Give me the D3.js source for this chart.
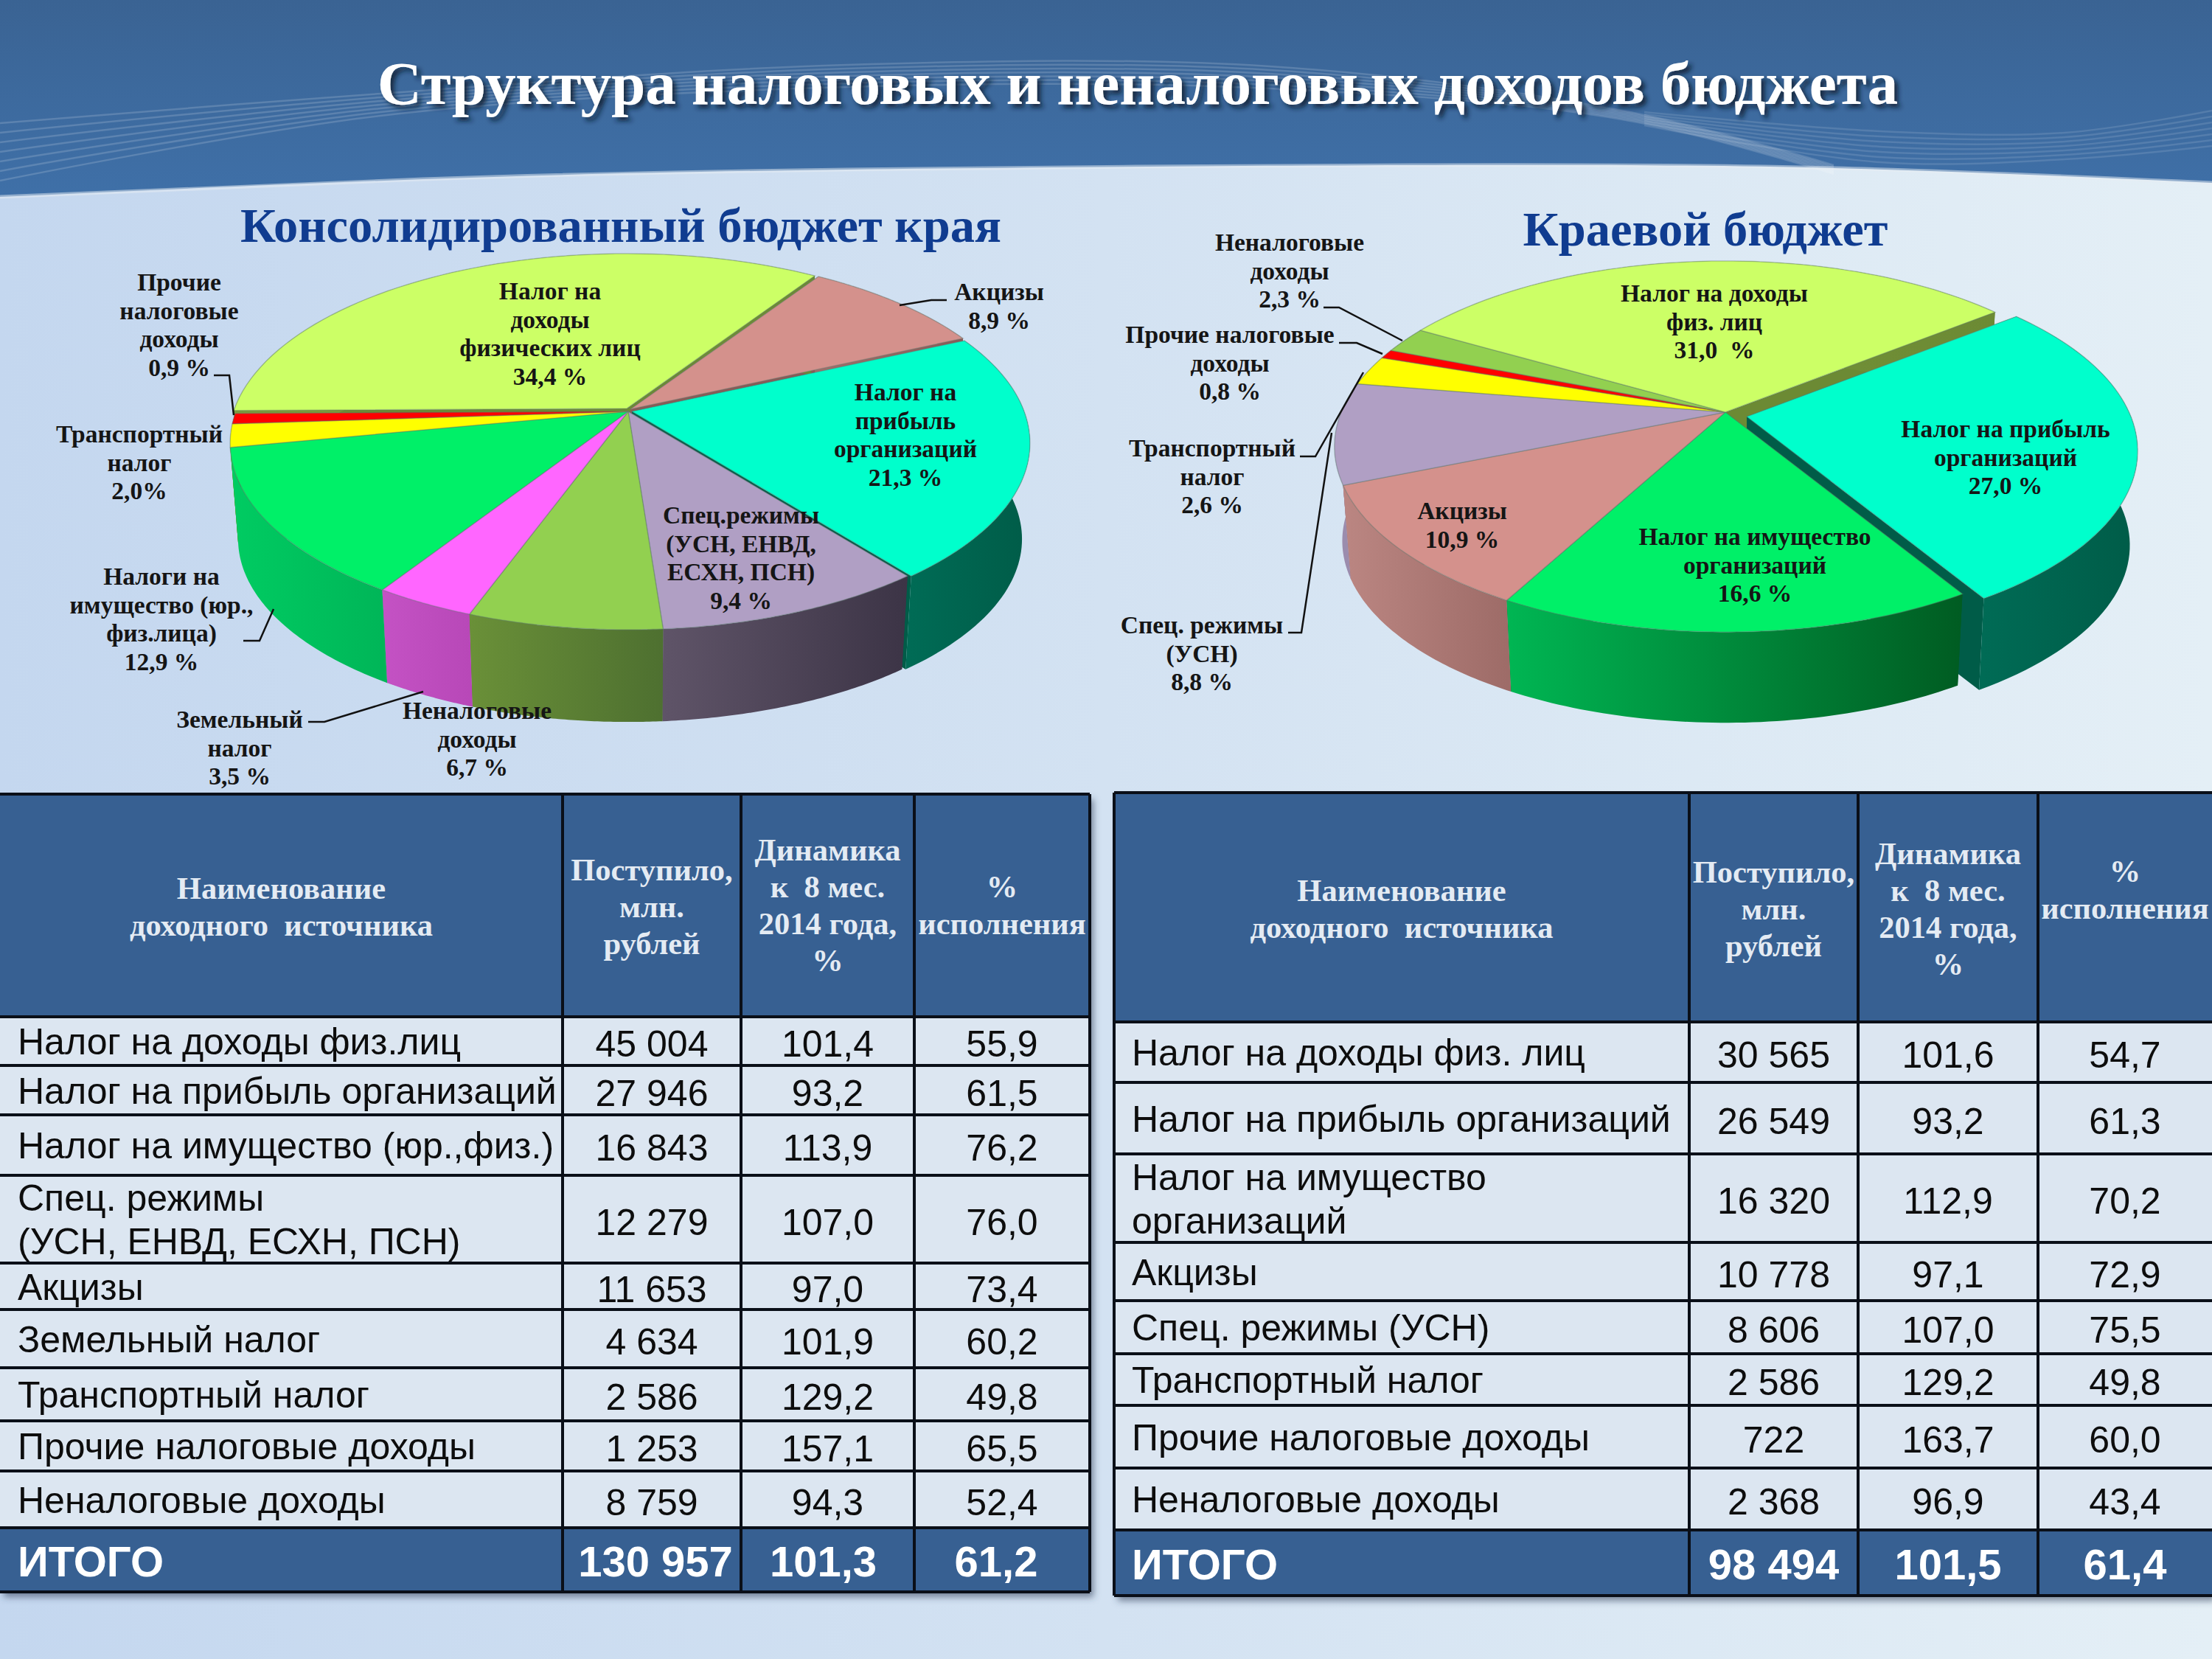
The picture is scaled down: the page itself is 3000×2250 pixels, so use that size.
<!DOCTYPE html>
<html>
<head>
<meta charset="utf-8">
<script src="https://cdn.jsdelivr.net/npm/d3@7"></script>
<style>
html, body { margin: 0; padding: 0; background: #d5e4f3; }
svg { display: block; }
</style>
</head>
<body>
<script>
var width = 3000;
var height = 2250;

// data
var consShares = [8.9, 21.3, 9.4, 6.7, 3.5, 12.9, 2.0, 0.9, 34.4];
var consTop = ["#d4918c", "#00ffcc", "#b09fc4", "#92d050", "#ff66ff", "#00f068", "#ffff00", "#ff0000", "#ccff66"];
var consSide = [["#a06e6a", "#8a5a56"], ["#006b55", "#005c48"], ["#5f5468", "#3c3446"], ["#6a9038", "#4e7030"],
    ["#c452c4", "#b848b8"], ["#00cc62", "#00b658"], ["#a0a000", "#909000"], ["#a00000", "#900000"], ["#7c9a3c", "#6c8a34"]];
var consOffset = [[3, -3], [5, 0], [0, 0], [0, 0], [0, 0], [0, 0], [0, 0], [0, 0], [-2, -4]];

var kraiShares = [27.0, 16.6, 10.9, 8.8, 2.6, 0.8, 2.3, 31.0];
var kraiTop = ["#00ffcc", "#00f068", "#d4918c", "#b09fc4", "#ffff00", "#ff0000", "#92d050", "#ccff66"];
var kraiSide = [["#006b55", "#005c48"], ["#00b653", "#005c22"], ["#bb8682", "#9e6c68"], ["#9b8cad", "#9b8cad"],
    ["#a0a000", "#909000"], ["#a00000", "#900000"], ["#6a9038", "#4e7030"], ["#7c9a3c", "#6c8a34"]];
var kraiOffset = [[29, 6], [0, 0], [0, 0], [0, 0], [0, 0], [0, 0], [0, 0], [0, 0]];

var consLabels = [
    ["Налог на|доходы|физических лиц|34,4 %", 746, 396],
    ["Акцизы|8,9 %", 1355, 397],
    ["Налог на|прибыль|организаций|21,3 %", 1228, 533],
    ["Спец.режимы|(УСН, ЕНВД,|ЕСХН, ПСН)|9,4 %", 1005, 700],
    ["Неналоговые|доходы|6,7 %", 647, 965],
    ["Земельный|налог|3,5 %", 325, 977],
    ["Налоги на|имущество (юр.,|физ.лица)|12,9 %", 219, 783],
    ["Транспортный|налог|2,0%", 189, 590],
    ["Прочие|налоговые|доходы|0,9 %", 243, 384]
];
var kraiLabels = [
    ["Неналоговые|доходы|2,3 %", 1749, 330],
    ["Прочие налоговые|доходы|0,8 %", 1668, 455],
    ["Транспортный|налог|2,6 %", 1644, 609],
    ["Спец. режимы|(УСН)|8,8 %", 1630, 849],
    ["Налог на доходы|физ. лиц|31,0  %", 2325, 399],
    ["Налог на прибыль|организаций|27,0 %", 2720, 583],
    ["Налог на имущество|организаций|16,6 %", 2380, 729],
    ["Акцизы|10,9 %", 1983, 694]
];
var consLeaders = [
    [[1220, 414], [1263, 407], [1284, 407]],
    [[290, 509], [311, 509], [317, 563]],
    [[330, 869], [352, 869], [371, 826]],
    [[418, 979], [440, 979], [574, 938]]
];
var kraiLeaders = [
    [[1795, 417], [1816, 417], [1902, 462]],
    [[1816, 465], [1840, 465], [1875, 480]],
    [[1763, 619], [1784, 619], [1849, 505]],
    [[1747, 858], [1765, 858], [1806, 587]]
];

var headers = ["Наименование|доходного  источника", "Поступило,|млн.|рублей", "Динамика|к  8 мес.|2014 года,|%", "%|исполнения"];

var consNames = ["Налог на доходы физ.лиц", "Налог на прибыль организаций", "Налог на имущество (юр.,физ.)",
    "Спец. режимы|(УСН, ЕНВД, ЕСХН, ПСН)", "Акцизы", "Земельный налог", "Транспортный налог",
    "Прочие налоговые доходы", "Неналоговые доходы"];
var consReceived = ["45 004", "27 946", "16 843", "12 279", "11 653", "4 634", "2 586", "1 253", "8 759"];
var consDynamics = ["101,4", "93,2", "113,9", "107,0", "97,0", "101,9", "129,2", "157,1", "94,3"];
var consPercent = ["55,9", "61,5", "76,2", "76,0", "73,4", "60,2", "49,8", "65,5", "52,4"];
var consTotal = ["ИТОГО", "130 957", "101,3", "61,2"];

var kraiNames = ["Налог на доходы физ. лиц", "Налог на прибыль организаций", "Налог на имущество|организаций",
    "Акцизы", "Спец. режимы (УСН)", "Транспортный налог", "Прочие налоговые доходы", "Неналоговые доходы"];
var kraiReceived = ["30 565", "26 549", "16 320", "10 778", "8 606", "2 586", "722", "2 368"];
var kraiDynamics = ["101,6", "93,2", "112,9", "97,1", "107,0", "129,2", "163,7", "96,9"];
var kraiPercent = ["54,7", "61,3", "70,2", "72,9", "75,5", "49,8", "60,0", "43,4"];
var kraiTotal = ["ИТОГО", "98 494", "101,5", "61,4"];

var serif = "'Liberation Serif', serif";
var sans = "'Liberation Sans', sans-serif";

var svg = d3.select("body").append("svg")
    .attr("width", width)
    .attr("height", height);
var defs = svg.append("defs");

function gradient(id, x1, x2, y1, y2, stops) {
    var g = defs.append("linearGradient")
        .attr("id", id)
        .attr("gradientUnits", "userSpaceOnUse")
        .attr("x1", x1).attr("x2", x2)
        .attr("y1", y1).attr("y2", y2);
    stops.forEach(function (c, i) {
        g.append("stop").attr("offset", i / (stops.length - 1)).attr("stop-color", c);
    });
}

gradient("page", 0, width, 0, 0, ["#c4d7ef", "#d3e2f2", "#e4eff6"]);
gradient("band", 0, 0, 0, 270, ["#3a6393", "#3d6a9e", "#3f70a8"]);

var titleShadow = defs.append("filter").attr("id", "titleShadow")
    .attr("x", "-5%").attr("y", "-20%").attr("width", "110%").attr("height", "150%");
titleShadow.append("feDropShadow")
    .attr("dx", 5).attr("dy", 5).attr("stdDeviation", 3)
    .attr("flood-color", "#0b1c30").attr("flood-opacity", 0.85);

var tableShadow = defs.append("filter").attr("id", "tableShadow")
    .attr("x", "-5%").attr("y", "-5%").attr("width", "110%").attr("height", "110%");
tableShadow.append("feDropShadow")
    .attr("dx", 5).attr("dy", 7).attr("stdDeviation", 5)
    .attr("flood-color", "#30405a").attr("flood-opacity", 0.6);

svg.append("rect").attr("width", width).attr("height", height).attr("fill", "url(#page)");

// header band
var edge = [[0, 267], [574, 243], [1148, 230], [1913, 224], [2487, 228], [3000, 248]];
var edgeLine = d3.line().curve(d3.curveNatural);

var waveLine = d3.line().curve(d3.curveCatmullRom);
svg.append("path")
    .attr("d", edgeLine(edge) + "L3000,0L0,0Z")
    .attr("fill", "url(#band)");
d3.range(7).forEach(function (i) {
    svg.append("path")
        .attr("d", waveLine([[0, 167 + i * 13], [516, 127 + i * 5], [1148, 88 + i * 5], [1722, 90 + i * 5],
            [2200, 150 + i * 2], [2487, 224 + i * 2]]))
        .attr("fill", "none").attr("stroke", "#fff").attr("stroke-opacity", 0.16).attr("stroke-width", 2.5);
    svg.append("path")
        .attr("d", waveLine([[2230, 152 + i * 3], [2550, 178 + i * 7], [2800, 180 + i * 6], [3000, 150 + i * 8]]))
        .attr("fill", "none").attr("stroke", "#fff").attr("stroke-opacity", 0.12).attr("stroke-width", 2.5);
});
svg.append("path")
    .attr("d", edgeLine(edge))
    .attr("fill", "none")
    .attr("stroke", "#e8eef4")
    .attr("stroke-opacity", 0.5)
    .attr("stroke-width", 5);

svg.append("text")
    .attr("x", 1543).attr("y", 141)
    .attr("text-anchor", "middle")
    .attr("font-family", serif).attr("font-weight", "bold").attr("font-size", 83.3)
    .attr("fill", "#fff")
    .attr("filter", "url(#titleShadow)")
    .text("Структура налоговых и неналоговых доходов бюджета");

function subtitle(txt, x, y) {
    svg.append("text")
        .attr("x", x).attr("y", y)
        .attr("text-anchor", "middle")
        .attr("font-family", serif).attr("font-weight", "bold").attr("font-size", 66.5)
        .attr("fill", "#103c90")
        .text(txt);
}
subtitle("Консолидированный бюджет края", 842, 328);
subtitle("Краевой бюджет", 2313, 333);

// 3d pie: d3.pie gives the angles, the disc is then put through a small perspective
function drawPie(cfg) {
    var g = svg.append("g");
    var slices = d3.pie().sort(null).value(function (d) { return d; })
        .startAngle(cfg.start * Math.PI / 180)
        .endAngle((cfg.start + 360) * Math.PI / 180)(cfg.shares);

    function project(a, r, h, off) {
        var u = r * Math.sin(a), v = -r * Math.cos(a);
        var f = 1 / (1 - cfg.k * v);
        var s = 1 - 0.02 * h;
        return [cfg.cx + off[0] + cfg.b * u * f * s, cfg.cy + off[1] + cfg.a * v * f * s + cfg.depth * h];
    }
    function arcPoints(d, h, off) {
        return d3.range(0, 61).map(function (i) {
            return project(d.startAngle + (d.endAngle - d.startAngle) * i / 60, 1, h, off);
        });
    }
    var line = d3.line();

    slices.forEach(function (d, i) {
        var xs = arcPoints(d, 0, cfg.offset[i]).map(function (p) { return p[0]; });
        gradient(cfg.id + "side" + i, d3.min(xs), d3.max(xs), 0, 0, cfg.side[i]);
        d.mid = -Math.cos((d.startAngle + d.endAngle) / 2);
        d.idx = i;
    });
    var order = slices.slice().sort(function (a, b) { return a.mid - b.mid; });

    // radial walls show only where a slice is pulled out
    order.forEach(function (d) {
        var off = cfg.offset[d.idx];
        [d.startAngle, d.endAngle].forEach(function (a) {
            g.append("path")
                .attr("d", line([project(a, 0, 0, off), project(a, 1, 0, off), project(a, 1, 1, off), project(a, 0, 1, off)]) + "Z")
                .attr("fill", cfg.side[d.idx][1]);
        });
    });
    order.forEach(function (d) {
        var off = cfg.offset[d.idx];
        g.append("path")
            .attr("d", line(arcPoints(d, 0, off).concat(arcPoints(d, 1, off).reverse())) + "Z")
            .attr("fill", "url(#" + cfg.id + "side" + d.idx + ")");
    });
    slices.forEach(function (d) {
        var off = cfg.offset[d.idx];
        g.append("path")
            .attr("d", line([project(0, 0, 0, off)].concat(arcPoints(d, 0, off))) + "Z")
            .attr("fill", cfg.top[d.idx])
            .attr("stroke", "#5f7a70")
            .attr("stroke-opacity", 0.4)
            .attr("stroke-width", 1.5);
    });

    var leader = d3.line();
    cfg.leaders.forEach(function (pts) {
        g.append("path").attr("d", leader(pts))
            .attr("fill", "none").attr("stroke", "#111").attr("stroke-width", 2.5);
    });

    cfg.labels.forEach(function (l) {
        var t = g.append("text")
            .attr("text-anchor", "middle")
            .attr("font-family", serif).attr("font-weight", "bold").attr("font-size", 33.5)
            .attr("fill", "#151515");
        l[0].split("|").forEach(function (s, i) {
            t.append("tspan")
                .attr("x", l[1])
                .attr("y", l[2] + i * 38.5 + 10)
                .attr("xml:space", "preserve")
                .text(s);
        });
    });
}

drawPie({ id: "cons", shares: consShares, top: consTop, side: consSide, offset: consOffset,
    labels: consLabels, leaders: consLeaders, start: 33.2, cx: 852, cy: 558, a: 245.7, b: 532, k: 0.17, depth: 131 });
drawPie({ id: "krai", shares: kraiShares, top: kraiTop, side: kraiSide, offset: kraiOffset,
    labels: kraiLabels, leaders: kraiLeaders, start: 51.5, cx: 2340, cy: 559, a: 243, b: 521, k: 0.185, depth: 129 });

function drawTable(cfg) {
    var g = svg.append("g");
    var xs = cfg.xs, ys = cfg.ys;
    var nRows = cfg.names.length;
    var headFill = "#376092", cellFill = "#dce6f1", ink = "#0d0d0d";

    g.append("rect")
        .attr("x", xs[0]).attr("y", ys[0])
        .attr("width", xs[4] - xs[0]).attr("height", ys[ys.length - 1] - ys[0])
        .attr("fill", cellFill)
        .attr("filter", "url(#tableShadow)");
    g.append("rect")
        .attr("x", xs[0]).attr("y", ys[0])
        .attr("width", xs[4] - xs[0]).attr("height", ys[1] - ys[0])
        .attr("fill", headFill);
    g.append("rect")
        .attr("x", xs[0]).attr("y", ys[nRows + 1])
        .attr("width", xs[4] - xs[0]).attr("height", ys[nRows + 2] - ys[nRows + 1])
        .attr("fill", headFill);

    g.selectAll(".h").data(ys).enter().append("line")
        .attr("x1", xs[0]).attr("x2", xs[4])
        .attr("y1", function (d) { return d; }).attr("y2", function (d) { return d; })
        .attr("stroke", "#0a0f18").attr("stroke-width", 4);
    g.selectAll(".v").data(xs.slice(1, 4).concat(cfg.border)).enter().append("line")
        .attr("x1", function (d) { return d; }).attr("x2", function (d) { return d; })
        .attr("y1", ys[0]).attr("y2", ys[ys.length - 1])
        .attr("stroke", "#0a0f18").attr("stroke-width", 4);

    function cx(c) { return (xs[c] + xs[c + 1]) / 2; }

    headers.forEach(function (h, c) {
        var lines = h.split("|");
        var mid = (ys[0] + ys[1]) / 2 + cfg.headShift[c] - (lines.length - 1) * 25;
        var t = g.append("text")
            .attr("text-anchor", "middle")
            .attr("font-family", serif).attr("font-weight", "bold").attr("font-size", 42.5)
            .attr("fill", "#e4ebf3");
        lines.forEach(function (s, i) {
            t.append("tspan").attr("x", cx(c)).attr("y", mid + i * 50 + 12)
                .attr("xml:space", "preserve").text(s);
        });
    });

    cfg.names.forEach(function (name, r) {
        var mid = (ys[r + 1] + ys[r + 2]) / 2;
        var lines = name.split("|");
        var t = g.append("text")
            .attr("font-family", sans).attr("font-size", 50).attr("fill", ink);
        lines.forEach(function (s, i) {
            t.append("tspan")
                .attr("x", xs[0] + 24)
                .attr("y", mid + (i - (lines.length - 1) / 2) * 59 + 18)
                .text(s);
        });
        [cfg.received[r], cfg.dynamics[r], cfg.percent[r]].forEach(function (v, c) {
            g.append("text")
                .attr("x", cx(c + 1)).attr("y", mid + 21)
                .attr("text-anchor", "middle")
                .attr("font-family", sans).attr("font-size", 50).attr("fill", ink)
                .text(v);
        });
    });

    var totalMid = (ys[nRows + 1] + ys[nRows + 2]) / 2;
    cfg.total.forEach(function (v, c) {
        g.append("text")
            .attr("x", c === 0 ? xs[0] + 24 : cx(c) + cfg.totalShift[c]).attr("y", totalMid + 22)
            .attr("text-anchor", c === 0 ? "start" : "middle")
            .attr("font-family", sans).attr("font-weight", "bold").attr("font-size", 58)
            .attr("fill", "#fff")
            .text(v);
    });
}

drawTable({ names: consNames, received: consReceived, dynamics: consDynamics, percent: consPercent, total: consTotal,
    xs: [0, 763, 1005, 1240, 1478], border: [1478],
    ys: [1077, 1379, 1445, 1512, 1594, 1713, 1776, 1855, 1927, 1995, 2072, 2159],
    headShift: [4, 4, 2, 2], totalShift: [0, 5, -6, -8] });
drawTable({ names: kraiNames, received: kraiReceived, dynamics: kraiDynamics, percent: kraiPercent, total: kraiTotal,
    xs: [1511, 2291, 2520, 2764, 3000], border: [1511],
    ys: [1075, 1386, 1468, 1565, 1685, 1764, 1836, 1906, 1991, 2075, 2164],
    headShift: [4, 4, 4, -22], totalShift: [0, 0, 0, 0] });
</script>
</body>
</html>
